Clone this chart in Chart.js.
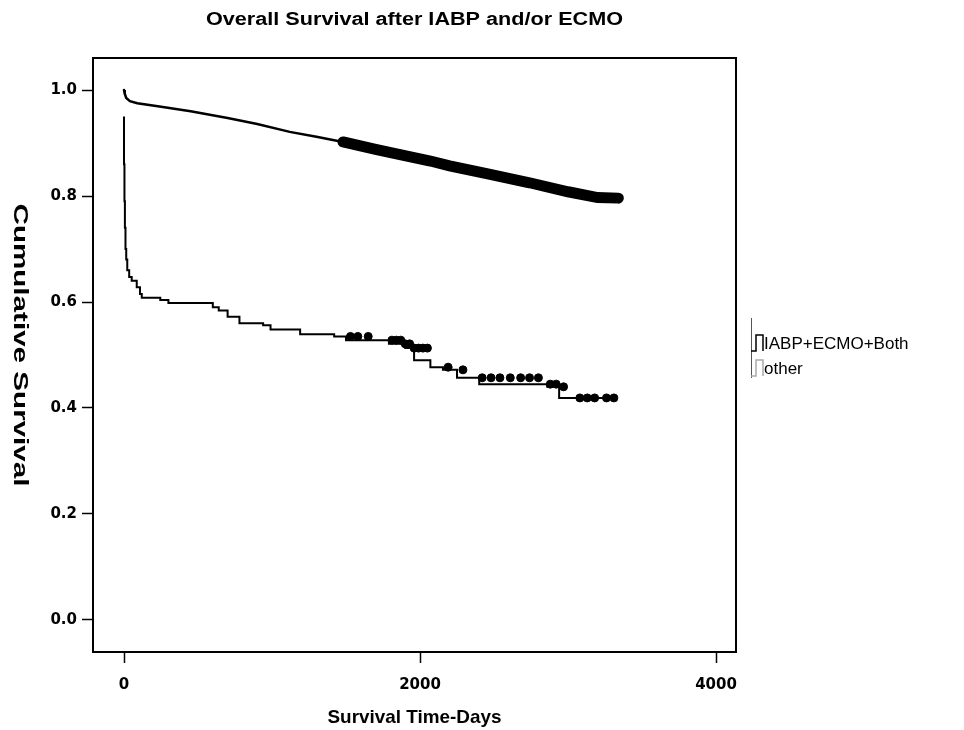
<!DOCTYPE html>
<html>
<head>
<meta charset="utf-8">
<script src="https://cdn.jsdelivr.net/npm/chart.js@4.4.1/dist/chart.umd.min.js"></script>
<style>
  html, body { margin: 0; padding: 0; background: #fff; }
</style>
</head>
<body>
<canvas id="km" width="964" height="730"></canvas>
<script>
const chartTitle = "Overall Survival after IABP and/or ECMO";
const xTitle = "Survival Time-Days";
const yTitle = "Cumulative Survival";
const seriesNames = ["IABP+ECMO+Both", "other"];

// lower curve (IABP+ECMO+Both), step points
const devDays = [0, 3, 6, 10, 15, 22, 35, 52, 86, 108, 120, 245, 300, 600, 640, 700, 780, 940, 990, 1190,
  1420, 1500, 1790, 1900, 1960, 2070, 2155, 2250, 2400, 2860, 2940, 3010, 3330];
const devSurv = [0.95, 0.86, 0.79, 0.74, 0.70, 0.68, 0.66, 0.647, 0.64, 0.628, 0.615, 0.608, 0.604, 0.598, 0.59, 0.584, 0.572, 0.56, 0.556, 0.548,
  0.539, 0.535, 0.528, 0.521, 0.513, 0.49, 0.477, 0.472, 0.457, 0.445, 0.44, 0.419, 0.419];
const devCensorDays = [1530, 1580, 1650, 1810, 1840, 1870, 1900, 1930, 1960, 1990, 2020, 2050, 2190, 2290,
  2420, 2480, 2540, 2610, 2680, 2740, 2800, 2880, 2920, 2970, 3080, 3130, 3180, 3260, 3310];

// upper curve (other)
const otherDays = [0, 5, 15, 40, 90, 240, 450, 700, 900, 1120, 1300, 1480, 1700, 1865, 2070, 2200, 2450, 2740, 3000, 3200, 3340];
const otherSurv = [1.0, 0.993, 0.985, 0.979, 0.975, 0.969, 0.96, 0.947, 0.936, 0.921, 0.912, 0.902, 0.888, 0.878, 0.866, 0.857, 0.842, 0.825, 0.808, 0.797, 0.796];
const otherCensorFrom = 1480; // dense censoring from here on, drawn as a thick band

const xTicks = [0, 2000, 4000];
const yTicks = [0.0, 0.2, 0.4, 0.6, 0.8, 1.0];

const FONT = '"Liberation Sans", Arial, sans-serif';
const TICKFONT = '"DejaVu Sans", sans-serif';

function stepValue(days, surv, t) {
  let v = surv[0];
  for (let i = 0; i < days.length; i++) {
    if (days[i] <= t) v = surv[i];
  }
  return v;
}

const devPts = devDays.map((d, i) => ({ x: d, y: devSurv[i] }));
const otherPts = otherDays.map((d, i) => ({ x: d, y: otherSurv[i] }));
const devCensorPts = devCensorDays.map(d => ({ x: d, y: stepValue(devDays, devSurv, d) }));

// text in the scan is a bit stretched, so fit it to a length
function stretchedText(ctx, text, x, y, font, len, angle) {
  ctx.save();
  ctx.font = font;
  const w = ctx.measureText(text).width;
  ctx.translate(x, y);
  ctx.rotate(angle || 0);
  ctx.scale(len / w, 1);
  ctx.textAlign = "center";
  ctx.textBaseline = "middle";
  ctx.fillText(text, 0, 0);
  ctx.restore();
}

const decor = {
  id: "decor",
  afterDraw(chart) {
    const { ctx, chartArea: a } = chart;
    const cx = (a.left + a.right) / 2;
    ctx.save();
    ctx.strokeStyle = "#000";
    ctx.lineWidth = 2;
    ctx.strokeRect(a.left, a.top, a.right - a.left, a.bottom - a.top);

    ctx.fillStyle = "#000";
    stretchedText(ctx, chartTitle, cx, 20, "bold 18px " + FONT, 417);
    stretchedText(ctx, xTitle, cx, 718, "bold 19px " + FONT, 174);
    stretchedText(ctx, yTitle, 20, 345, "bold 20px " + FONT, 283, Math.PI / 2);

    // legend with step glyphs
    ctx.strokeStyle = "#555";
    ctx.lineWidth = 1;
    ctx.beginPath();
    ctx.moveTo(751.5, 318);
    ctx.lineTo(751.5, 378);
    ctx.stroke();

    ctx.textAlign = "left";
    ctx.textBaseline = "middle";
    ctx.font = "17px " + FONT;
    const rows = [343, 368];
    const glyphColors = ["#000", "#aaa"];
    seriesNames.forEach((name, i) => {
      const y = rows[i];
      ctx.strokeStyle = glyphColors[i];
      ctx.lineWidth = 1.5;
      ctx.beginPath();
      ctx.moveTo(751, y + 8);
      ctx.lineTo(756, y + 8);
      ctx.lineTo(756, y - 8);
      ctx.lineTo(763, y - 8);
      ctx.lineTo(763, y + 8);
      ctx.stroke();
      ctx.fillStyle = "#000";
      ctx.fillText(name, 764, y + 1);
    });
    ctx.restore();
  }
};

new Chart(document.getElementById("km"), {
  type: "line",
  data: {
    datasets: [
      {
        label: seriesNames[0],
        data: devPts,
        stepped: "after",
        borderColor: "#000",
        borderWidth: 2,
        pointRadius: 0,
        fill: false,
      },
      {
        label: seriesNames[0] + " censored",
        type: "scatter",
        data: devCensorPts,
        pointStyle: "circle",
        pointRadius: 4,
        backgroundColor: "#000",
        borderColor: "#000",
      },
      {
        label: seriesNames[1],
        data: otherPts,
        borderColor: "#000",
        borderWidth: 2.5,
        borderCapStyle: "round",
        pointRadius: 0,
        fill: false,
        segment: {
          borderWidth: (c) => (c.p0.parsed.x >= otherCensorFrom ? 11 : 2.5),
        },
      },
    ],
  },
  options: {
    responsive: false,
    animation: false,
    layout: { padding: { top: 58, right: 228, left: 0, bottom: 0 } },
    plugins: {
      legend: { display: false },
      title: { display: false },
      tooltip: { enabled: false },
    },
    scales: {
      x: {
        type: "linear",
        min: -209.5,
        max: 4135,
        afterBuildTicks: (s) => { s.ticks = xTicks.map(v => ({ value: v })); },
        afterFit: (s) => { s.height = 78; },
        grid: { drawOnChartArea: false, drawTicks: true, tickLength: 11, tickColor: "#000", tickWidth: 1.5 },
        border: { display: false },
        ticks: {
          color: "#000",
          padding: 13,
          maxRotation: 0,
          font: { family: TICKFONT, size: 15, weight: "bold" },
          callback: (v) => String(v),
        },
      },
      y: {
        type: "linear",
        min: -0.0604,
        max: 1.0604,
        afterBuildTicks: (s) => { s.ticks = yTicks.map(v => ({ value: v })); },
        afterFit: (s) => { s.width = 93; },
        grid: { drawOnChartArea: false, drawTicks: true, tickLength: 11, tickColor: "#000", tickWidth: 1.5 },
        border: { display: false },
        ticks: {
          color: "#000",
          padding: 5,
          font: { family: TICKFONT, size: 15, weight: "bold" },
          callback: (v) => Number(v).toFixed(1),
        },
      },
    },
  },
  plugins: [decor],
});
</script>
</body>
</html>
